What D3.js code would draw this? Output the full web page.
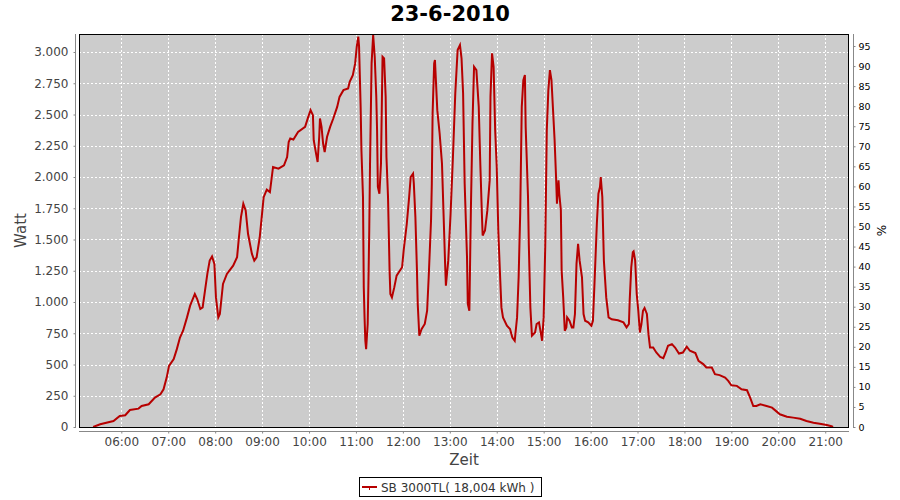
<!DOCTYPE html>
<html><head><meta charset="utf-8">
<script src="https://cdn.jsdelivr.net/npm/d3@7"></script>
<style>
body{margin:0;background:#fff}
svg{display:block}
text{font-family:"DejaVu Sans",sans-serif}
</style>
</head><body>
<svg id="c" width="900" height="500"></svg>
<script>
const title = "23-6-2010";
const seriesName = "SB 3000TL( 18,004 kWh )";
const xTitle = "Zeit";
const yTitle = "Watt";
const y2Title = "%";

const times = ["05:24","05:33","05:50","05:58","06:05","06:11","06:22","06:26","06:35","06:43","06:50","06:54","06:58","07:01","07:07","07:11","07:15","07:19","07:24","07:28","07:34","07:37","07:41","07:44","07:47","07:50","07:53","07:56","07:59","08:01","08:04","08:06","08:10","08:15","08:23","08:28","08:30","08:33","08:36","08:39","08:42","08:47","08:50","08:53","08:57","09:02","09:06","09:10","09:14","09:21","09:28","09:32","09:34","09:36","09:40","09:46","09:55","09:59","10:02","10:05","10:06","10:09","10:11","10:13","10:14","10:16","10:18","10:20","10:23","10:27","10:31","10:36","10:39","10:44","10:50","10:52","10:56","10:59","11:01","11:03","11:04",
"11:06","11:07","11:09","11:10","11:11","11:12","11:13","11:15","11:16","11:17","11:18","11:20","11:22","11:24","11:26","11:27","11:28","11:30","11:32","11:34","11:36","11:38","11:39","11:41","11:43","11:44","11:46","11:49","11:52","11:59","12:01","12:05","12:08","12:10","12:13","12:14","12:16","12:18","12:19","12:21","12:24","12:28","12:31","12:33","12:36","12:37","12:38","12:40","12:41","12:44","12:47","12:50","12:52","12:54","12:55","12:58","13:01","13:04","13:07","13:10","13:13","13:15","13:17","13:19","13:22","13:23","13:25","13:27","13:29","13:31","13:34","13:37","13:39","13:41","13:42","13:45","13:48","13:51","13:52","13:54","13:56","13:58","14:00","14:02","14:04","14:06","14:08","14:13","14:17","14:20","14:23","14:26","14:28","14:30","14:32","14:34","14:36","14:37","14:40","14:41","14:43","14:45","14:49","14:51","14:54","14:57","14:58","15:00","15:02","15:04","15:06","15:08","15:10","15:12","15:14","15:16","15:17","15:19","15:20","15:22","15:23","15:25","15:27","15:29","15:30","15:33","15:36","15:38","15:40","15:42","15:44","15:46","15:49","15:51","15:53","15:57","16:01","16:03","16:05","16:08","16:10","16:12","16:13","16:15","16:17","16:20","16:23","16:27","16:35","16:42","16:46","16:49","16:50","16:52","16:54","16:55","16:57","16:59","17:01","17:03","17:05","17:07","17:09","17:12","17:14","17:16","17:20","17:24","17:29","17:33","17:36","17:39","17:44","17:48","17:53","17:58","18:03","18:07","18:14","18:18","18:24","18:28","18:35","18:39","18:45","18:52","18:56","19:00","19:07","19:13","19:20","19:24","19:28","19:32","19:37","19:45","19:52","19:58","20:02","20:11","20:19","20:28","20:36","20:45","20:53","21:02","21:08","21:10"];

const watts = [0,22,48,88,94,136,147,168,182,235,262,302,395,489,543,623,716,770,877,971,1064,1024,944,957,1091,1225,1331,1364,1305,1037,877,904,1145,1225,1291,1358,1492,1679,1786,1733,1546,1385,1331,1358,1518,1839,1899,1879,2080,2067,2093,2160,2280,2308,2300,2361,2401,2481,2535,2495,2294,2187,2120,2320,2468,2401,2268,2200,2320,2401,2468,2561,2641,2695,2709,2762,2815,2909,3042,3123,3042,
2561,2214,1839,1117,877,690,623,824,1171,1572,2107,2909,3136,2962,2641,2374,1920,1866,2107,2962,2949,2641,2160,1839,1251,1064,1037,1117,1211,1278,1412,1626,1839,2000,2027,1947,1679,1251,984,730,784,824,930,1198,1652,1947,2508,2909,2936,2535,2348,2107,1706,1305,1131,1331,1706,2160,2669,3016,3056,2949,2669,1947,1358,984,930,1759,2428,2882,2855,2561,2107,1706,1532,1572,1733,1973,2641,2990,2882,2374,2080,1572,1251,957,877,810,784,716,690,877,1198,1706,2561,2775,2815,2401,1839,1465,957,730,756,824,837,730,690,877,1438,2374,2695,2855,2775,2535,2294,1973,1786,1973,1866,1733,1251,1037,770,797,877,850,797,797,904,1305,1465,1331,1198,904,850,837,810,850,1150,1626,1866,1920,2000,1839,1331,1037,877,862,854,837,797,824,1011,1278,1398,1405,1331,1064,930,756,824,930,952,904,743,636,636,596,561,551,596,650,663,636,588,596,642,610,591,529,503,476,476,423,415,395,369,334,329,302,294,235,168,168,182,168,155,123,102,82,75,66,48,34,26,16,6,0];

const hourTicks = ["06:00","07:00","08:00","09:00","10:00","11:00","12:00","13:00","14:00","15:00","16:00","17:00","18:00","19:00","20:00","21:00"];
const wattTicks = [0,250,500,750,1000,1250,1500,1750,2000,2250,2500,2750,3000];
const pctTicks = [0,5,10,15,20,25,30,35,40,45,50,55,60,65,70,75,80,85,90,95];

const toMin = s => { const p = s.split(":").map(Number); return p[0]*60 + p[1]; };
const L = 79, R = 849, T = 34, B = 427;
const svg = d3.select("#c");
const x = d3.scaleLinear().domain([305.9, 1290.4]).range([L, R]);
const y = d3.scaleLinear().domain([0, 3144]).range([B, T]);
const y2 = d3.scaleLinear().domain([0, 98]).range([B, T]);
const de = d3.formatLocale({decimal: ",", thousands: ".", grouping: [3], currency: ["", ""]});
const fmt = de.format(",");

svg.append("rect").attr("width", 900).attr("height", 500).attr("fill", "#fff");
svg.append("rect").attr("x", L).attr("y", T).attr("width", R - L).attr("height", B - T).attr("fill", "#cccccc");

const grid = svg.append("g").attr("stroke", "#fff").attr("stroke-width", 1).attr("stroke-dasharray", "2,2");
hourTicks.forEach(h => {
  const xx = Math.round(x(toMin(h))) + 0.5;
  grid.append("line").attr("x1", xx).attr("x2", xx).attr("y1", T).attr("y2", B);
});
wattTicks.forEach(w => {
  if (w === 0) return;
  const yy = Math.round(y(w)) + 0.5;
  grid.append("line").attr("x1", L).attr("x2", R).attr("y1", yy).attr("y2", yy);
});

svg.append("clipPath").attr("id", "clip").append("rect").attr("x", L).attr("y", T).attr("width", R - L).attr("height", B - T);
const data = times.map((t, i) => ({t: toMin(t), w: watts[i]}));
svg.append("path").datum(data).attr("clip-path", "url(#clip)")
  .attr("fill", "none").attr("stroke", "#b70000").attr("stroke-width", 2).attr("stroke-linejoin", "miter")
  .attr("d", d3.line().x(d => x(d.t)).y(d => y(d.w)));

svg.append("rect").attr("x", L + 0.5).attr("y", T + 0.5).attr("width", R - L - 1).attr("height", B - T)
  .attr("fill", "none").attr("stroke", "#000").attr("stroke-width", 1);

// left axis
const ax = svg.append("g").attr("transform", "translate(75.5,0)")
  .call(d3.axisLeft(y).tickValues(wattTicks).tickFormat(fmt).tickSize(2).tickSizeOuter(0).tickPadding(5));
ax.select(".domain").attr("stroke", "#888").attr("d", `M0,${T}V${B+1}`);
ax.selectAll(".tick line").attr("stroke", "#888");
ax.selectAll("text").attr("font-size", 12).attr("fill", "#444").attr("font-family", "DejaVu Sans");

// bottom axis
const bx = svg.append("g").attr("transform", "translate(0,431.5)")
  .call(d3.axisBottom(x).tickValues(hourTicks.map(toMin)).tickFormat((d, i) => hourTicks[i]).tickSize(2).tickSizeOuter(0).tickPadding(4));
bx.select(".domain").attr("stroke", "#888").attr("d", `M${L},0H${R}`);
bx.selectAll(".tick line").attr("stroke", "#888");
bx.selectAll("text").attr("font-size", 12).attr("fill", "#444").attr("font-family", "DejaVu Sans");

// right axis
const rx = svg.append("g").attr("transform", "translate(853.5,0)")
  .call(d3.axisRight(y2).tickValues(pctTicks).tickSize(2).tickSizeOuter(0).tickPadding(3));
rx.select(".domain").attr("stroke", "#888").attr("d", `M0,${T}V${B+1}`);
rx.selectAll(".tick line").attr("stroke", "#888");
rx.selectAll("text").attr("font-size", 9.5).attr("fill", "#000").attr("font-family", "DejaVu Sans");

// titles
svg.append("text").attr("x", 450).attr("y", 21).attr("text-anchor", "middle")
  .attr("font-size", 21).attr("font-weight", "bold").attr("fill", "#000").text(title);
svg.append("text").attr("x", (L + R) / 2).attr("y", 465).attr("text-anchor", "middle")
  .attr("font-size", 15).attr("fill", "#444").text(xTitle);
svg.append("text").attr("transform", `translate(26,${(T + B) / 2}) rotate(-90)`).attr("text-anchor", "middle")
  .attr("font-size", 15).attr("fill", "#444").text(yTitle);
svg.append("text").attr("transform", `translate(886,${(T + B) / 2}) rotate(-90)`).attr("text-anchor", "middle")
  .attr("font-size", 12).attr("fill", "#000").text(y2Title);

// legend
const lg = svg.append("g");
lg.append("rect").attr("x", 359.5).attr("y", 477.5).attr("width", 182).attr("height", 19)
  .attr("fill", "#fff").attr("stroke", "#000");
lg.append("line").attr("x1", 362).attr("x2", 377).attr("y1", 487).attr("y2", 487).attr("stroke", "#b70000").attr("stroke-width", 2);
lg.append("rect").attr("x", 369).attr("y", 488).attr("width", 1).attr("height", 2).attr("fill", "#b70000");
lg.append("text").attr("x", 381).attr("y", 491.5).attr("font-size", 12).attr("fill", "#333").text(seriesName);
</script>
</body></html>
